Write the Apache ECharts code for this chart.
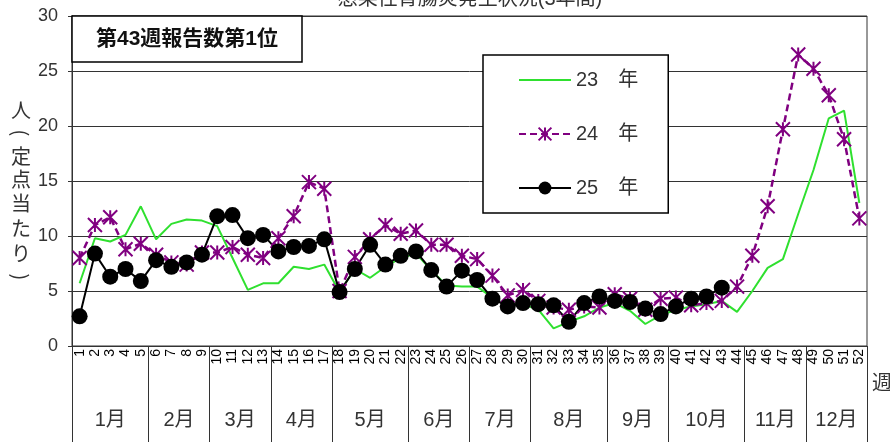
<!DOCTYPE html>
<html>
<head>
<meta charset="utf-8">
<script src="https://cdn.jsdelivr.net/npm/echarts@6/dist/echarts.min.js"></script>
<style>
html, body {margin: 0; padding: 0; background: #fff;}
#chart {width: 890px; height: 442px;}
</style>
</head>
<body>
<div id="chart"></div>
<script>
// 週 1..52
const weeks = Array.from({length: 52}, (_, i) => String(i + 1));

const y23 = [5.7, 9.8, 9.5, 10.1, 12.7, 9.7, 11.1, 11.5, 11.4, 10.9,
    8.0, 5.1, 5.7, 5.7, 7.2, 7.0, 7.4, 4.9, 7.0, 6.2,
    7.2, 8.0, 8.4, 6.9, 5.5, 5.4, 5.4, 4.4, 3.7, 3.8,
    3.3, 1.6, 2.2, 2.7, 3.5, 3.9, 3.2, 2.0, 2.8, 3.3,
    3.6, 3.8, 4.1, 3.1, 5.0, 7.1, 7.9, 12.0, 16.0, 20.7,
    21.4, 13.0];
const y24 = [8.0, 11.0, 11.7, 8.8, 9.3, 8.3, 7.6, 7.4, 8.5, 8.5,
    9.0, 8.3, 8.0, 9.8, 11.8, 14.9, 14.3, 5.0, 8.1, 9.7,
    11.0, 10.2, 10.5, 9.2, 9.2, 8.2, 7.9, 6.4, 4.6, 5.1,
    4.1, 3.5, 3.3, 3.6, 3.5, 4.7, 4.3, 3.3, 4.3, 4.4,
    3.7, 3.9, 4.1, 5.4, 8.2, 12.7, 19.7, 26.5, 25.2, 22.8,
    18.8, 11.6];
const y25 = [2.7, 8.4, 6.3, 7.0, 5.9, 7.8, 7.2, 7.6, 8.3, 11.8,
    11.9, 9.8, 10.1, 8.6, 9.0, 9.1, 9.7, 4.9, 7.0, 9.2,
    7.4, 8.2, 8.6, 6.9, 5.4, 6.85, 6.0, 4.3, 3.6, 3.9,
    3.8, 3.7, 2.2, 3.9, 4.5, 4.1, 4.0, 3.4, 2.9, 3.6,
    4.3, 4.5, 5.3];

const months = ['1月', '2月', '3月', '4月', '5月', '6月', '7月', '8月', '9月', '10月', '11月', '12月'];
// 各月の境界 (週の区切り)
const monthEdges = [0, 5, 9, 13, 17, 22, 26, 30, 35, 39, 44, 48, 52];
const monthMid = months.map((m, i) => (monthEdges[i] + monthEdges[i + 1]) / 2);

const font = "'Liberation Sans Narrow', 'Liberation Sans', 'Noto Sans CJK JP', sans-serif";
const cjk = "'Noto Sans CJK JP', sans-serif";
const asterisk = 'path://M0,0L10,10M10,0L0,10M5,0L5,10';

// 縦書きの軸名 人（定点当たり）
const yNameChars = [
    {t: '人', y: 110}, {t: '(', y: 133, rot: true}, {t: '定', y: 156}, {t: '点', y: 179},
    {t: '当', y: 203}, {t: 'た', y: 228}, {t: 'り', y: 253}, {t: ')', y: 277, rot: true}
];

const chart = echarts.init(document.getElementById('chart'));
const option = {
    animation: false,
    backgroundColor: '#fff',
    textStyle: {fontFamily: font},
    grid: {
        left: 72, right: 23, top: 16, bottom: 96,
        show: true, borderColor: '#333', borderWidth: 1,
        containLabel: false, outerBoundsMode: 'none'
    },
    legend: {
        orient: 'vertical',
        left: 483, top: 55,
        itemWidth: 52, itemHeight: 16, itemGap: 34,
        padding: [15, 30, 15, 35],
        borderColor: '#000', borderWidth: 1.5,
        backgroundColor: '#fff',
        textStyle: {fontSize: 20, color: '#333', fontFamily: font},
        data: [
            {name: '23　年', itemStyle: {opacity: 0}},
            {name: '24　年'},
            {name: '25　年'}
        ]
    },
    xAxis: [
        {
            type: 'category',
            data: weeks,
            boundaryGap: true,
            axisLine: {lineStyle: {color: '#333'}},
            axisTick: {alignWithLabel: false, length: 41, lineStyle: {color: '#333'}},
            axisLabel: {rotate: 90, interval: 0, fontSize: 14, margin: 3, color: '#000'},
            name: '週',
            nameLocation: 'end',
            nameGap: 5,
            nameTextStyle: {fontSize: 20, color: '#333', verticalAlign: 'top', padding: [28, 0, 0, 0]}
        },
        {
            type: 'value',
            min: 0, max: 52,
            position: 'bottom',
            axisLine: {show: false},
            splitLine: {show: false},
            axisTick: {show: true, customValues: monthEdges, length: 96, lineStyle: {color: '#333'}},
            axisLabel: {
                customValues: monthMid,
                formatter: v => months[monthMid.indexOf(v)],
                margin: 64, fontSize: 20, color: '#333'
            }
        }
    ],
    yAxis: {
        type: 'value',
        min: 0, max: 30, interval: 5,
        axisLine: {show: true, lineStyle: {color: '#333'}},
        axisTick: {show: true, length: 4, lineStyle: {color: '#333'}},
        axisLabel: {fontSize: 18, color: '#333', margin: 14},
        splitLine: {lineStyle: {color: '#333', width: 1}}
    },
    graphic: [
        {
            type: 'text', x: 470, y: -1,
            style: {text: '感染性胃腸炎発生状況(3年間)', fontSize: 20, fontFamily: font,
                fill: '#333', textAlign: 'center', textVerticalAlign: 'middle'}
        },
        ...yNameChars.map(c => ({
            type: 'text', x: 21, y: c.y,
            rotation: c.rot ? -Math.PI / 2 : 0,
            style: {text: c.t, fontSize: 20, fontFamily: cjk, fill: '#333',
                textAlign: 'center', textVerticalAlign: 'middle'}
        })),
        {
            type: 'rect', z: 100,
            shape: {x: 72, y: 16, width: 230, height: 46},
            style: {fill: '#fff', stroke: '#000', lineWidth: 1.5}
        },
        {
            type: 'text', z: 101, x: 187, y: 39,
            style: {text: '第43週報告数第1位', fontSize: 21, fontWeight: 'bold', fontFamily: font,
                fill: '#111', textAlign: 'center', textVerticalAlign: 'middle'}
        }
    ],
    series: [
        {
            name: '23　年', type: 'line', data: y23,
            symbol: 'none',
            lineStyle: {color: '#2fe02f', width: 2},
            itemStyle: {color: '#2fe02f'}
        },
        {
            name: '24　年', type: 'line', data: y24,
            symbol: asterisk, symbolSize: 14,
            lineStyle: {color: '#800080', width: 2.5, type: [7, 4]},
            itemStyle: {color: '#800080', borderColor: '#800080', borderWidth: 2}
        },
        {
            name: '25　年', type: 'line', data: y25,
            symbol: 'circle', symbolSize: 16,
            lineStyle: {color: '#000', width: 2},
            itemStyle: {color: '#000'}
        }
    ]
};
chart.setOption(option);
</script>
</body>
</html>
